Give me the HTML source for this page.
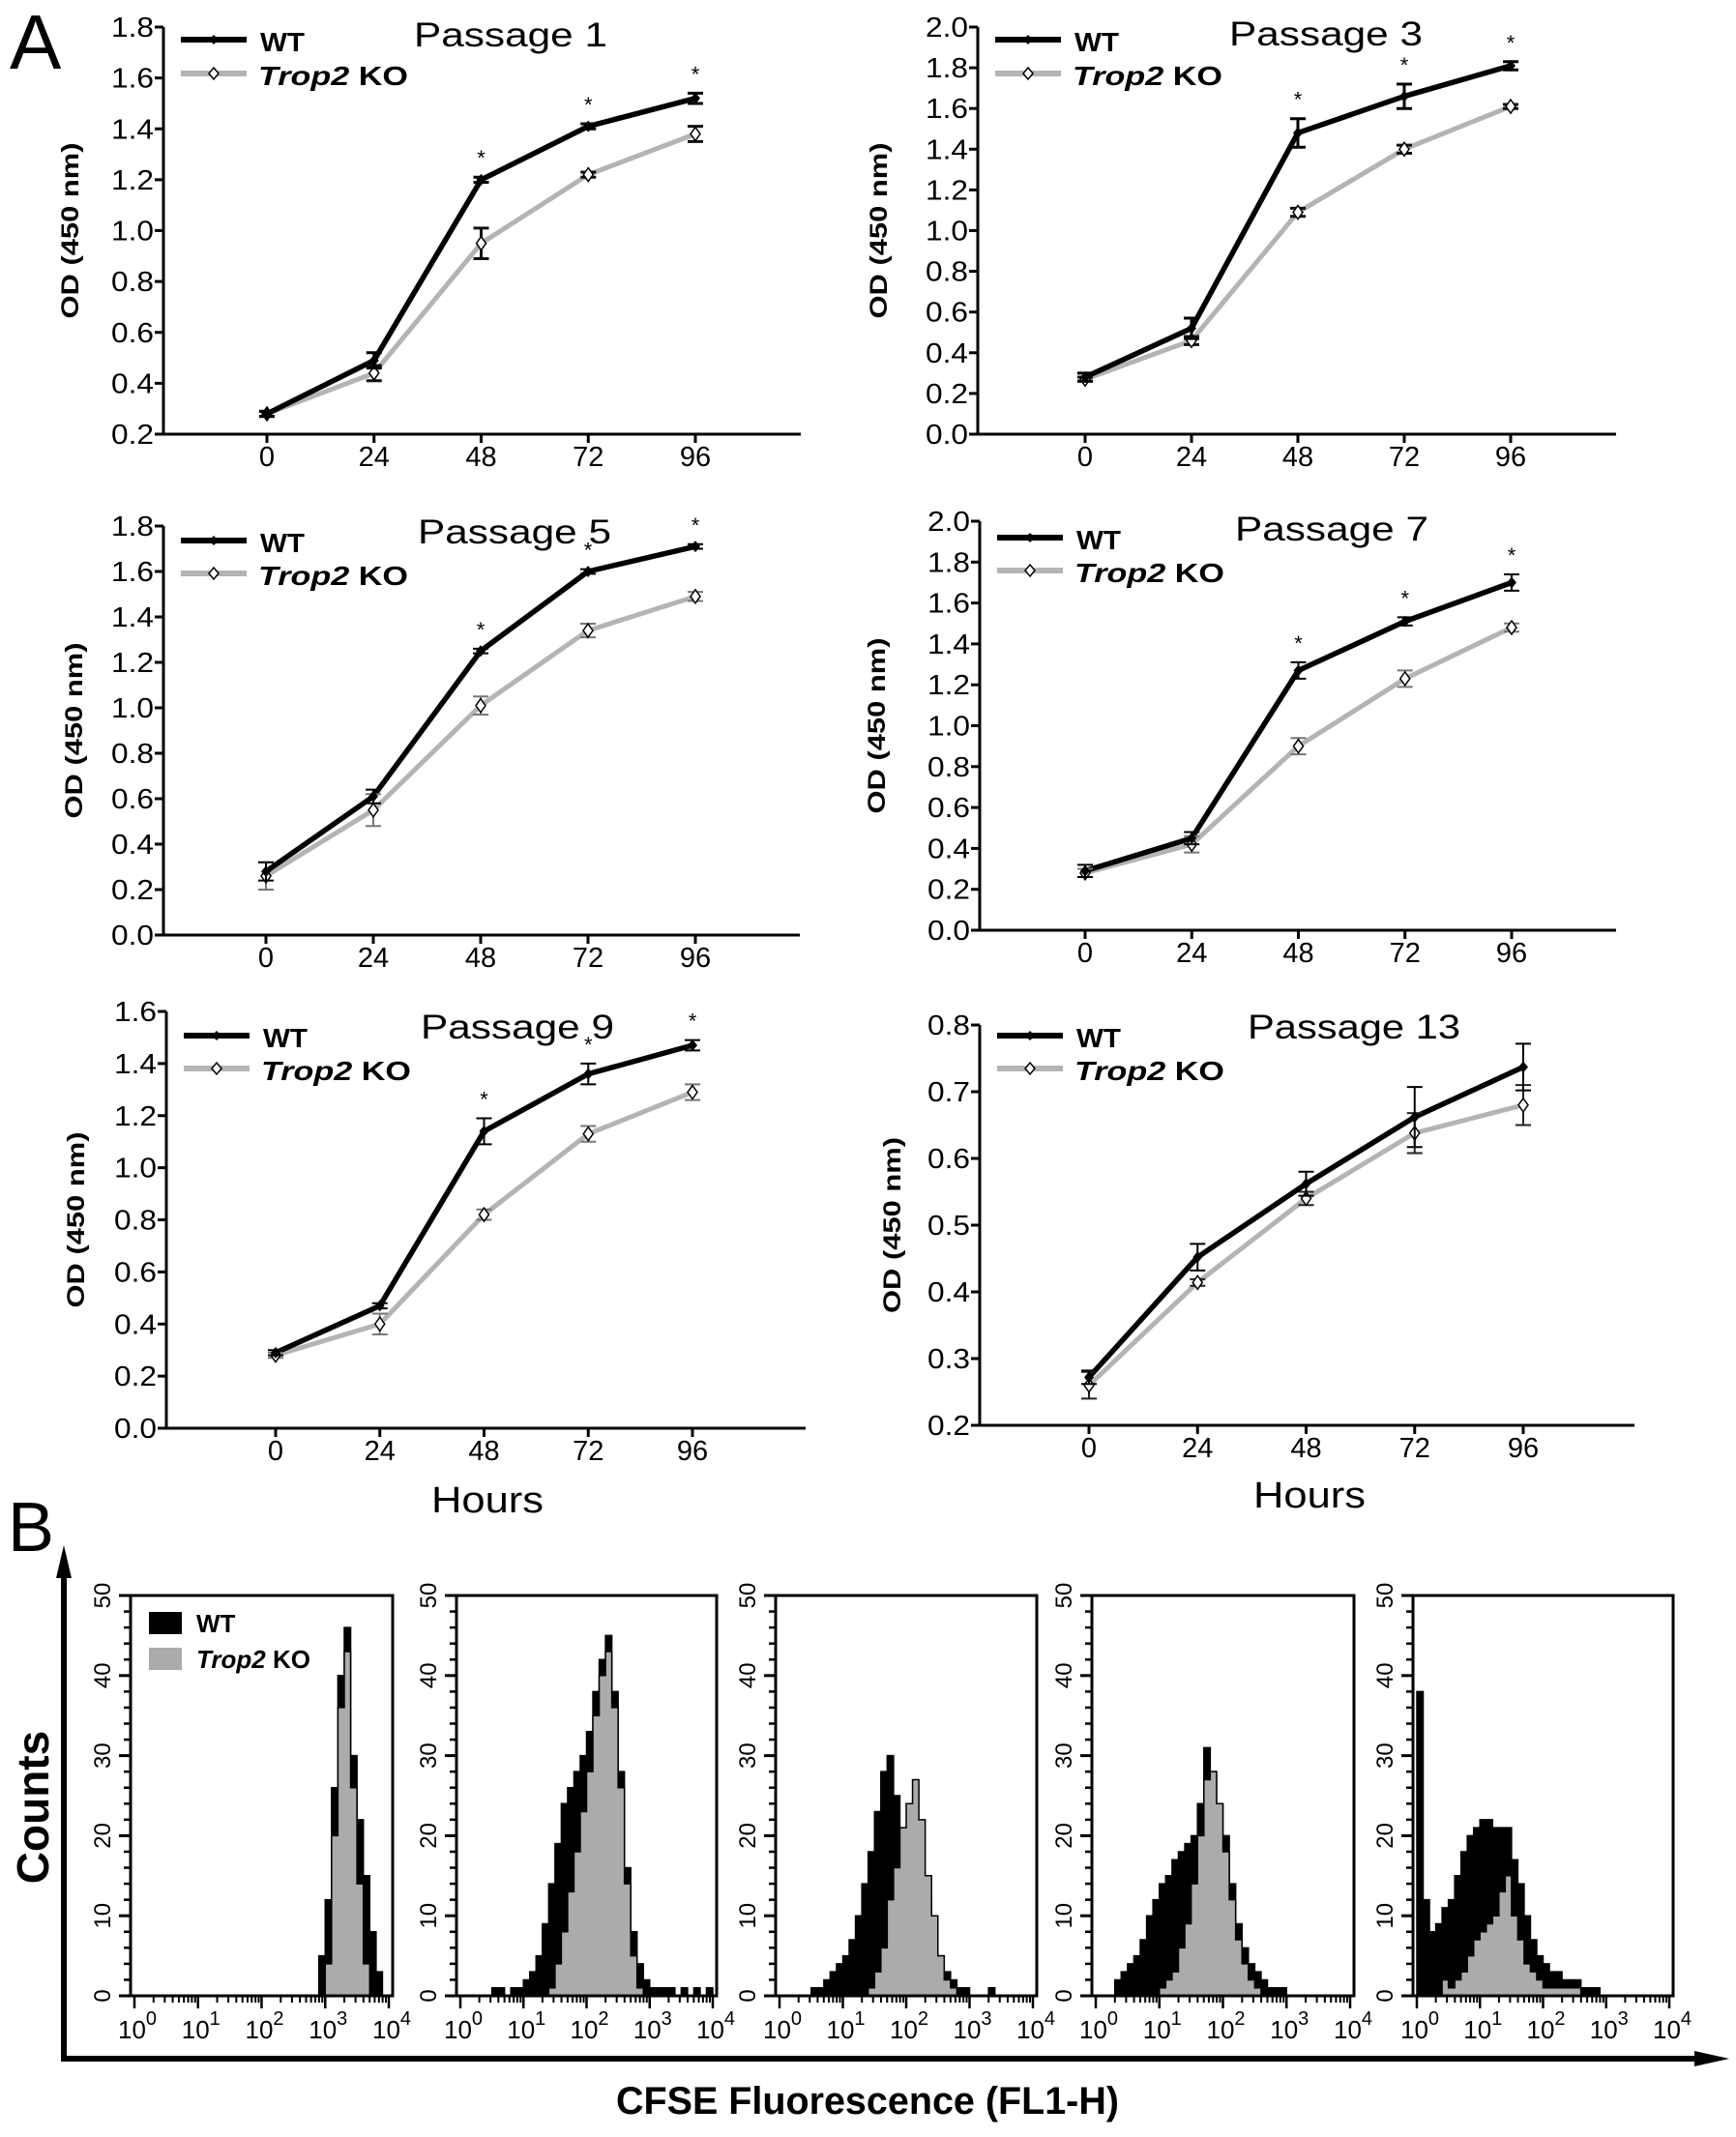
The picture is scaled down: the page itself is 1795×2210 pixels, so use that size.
<!DOCTYPE html>
<html><head><meta charset="utf-8"><title>Trop2 KO proliferation</title>
<style>
html,body{margin:0;padding:0;background:#fff;}
svg{display:block;font-family:"Liberation Sans",Arial,sans-serif;}
</style></head>
<body>
<svg id="fig" xmlns="http://www.w3.org/2000/svg" width="1795" height="2210" viewBox="0 0 1795 2210">
<rect x="0" y="0" width="1795" height="2210" fill="#fff"/>
<text x="10" y="71" font-size="80">A</text>
<text x="8" y="1604" font-size="72">B</text>
<text x="504" y="1564" font-size="38" text-anchor="middle" textLength="116" lengthAdjust="spacingAndGlyphs">Hours</text>
<text x="1354" y="1559" font-size="38" text-anchor="middle" textLength="116" lengthAdjust="spacingAndGlyphs">Hours</text>
<text x="0" y="0" font-size="46" font-weight="bold" text-anchor="middle" transform="translate(50,1869) rotate(-90)">Counts</text>
<text x="897" y="2186" font-size="40" font-weight="bold" text-anchor="middle" textLength="520" lengthAdjust="spacingAndGlyphs">CFSE Fluorescence (FL1-H)</text>
<g>
<line x1="66" y1="2130" x2="66" y2="1625" stroke="#000" stroke-width="6"/>
<polygon points="66,1598 58,1632 74,1632" fill="#000"/>
</g>
<g>
<line x1="63" y1="2129" x2="1760" y2="2129" stroke="#000" stroke-width="6"/>
<polygon points="1788,2129 1752,2121 1752,2137" fill="#000"/>
</g>
</svg>
<script>
// ===== Panel A data =====
const hours = [0, 24, 48, 72, 96];
const p1WT = [0.28, 0.49, 1.20, 1.41, 1.52];
const p1WTerr = [0.01, 0.03, 0.01, 0.01, 0.02];
const p1KO = [0.28, 0.44, 0.95, 1.22, 1.38];
const p1KOerr = [0.01, 0.03, 0.06, 0.01, 0.03];
const p3WT = [0.28, 0.52, 1.48, 1.66, 1.81];
const p3WTerr = [0.02, 0.05, 0.07, 0.06, 0.02];
const p3KO = [0.27, 0.46, 1.09, 1.40, 1.61];
const p3KOerr = [0.01, 0.02, 0.02, 0.02, 0.01];
const p5WT = [0.28, 0.61, 1.25, 1.60, 1.71];
const p5WTerr = [0.04, 0.03, 0.01, 0.01, 0.01];
const p5KO = [0.26, 0.55, 1.01, 1.34, 1.49];
const p5KOerr = [0.06, 0.07, 0.04, 0.03, 0.02];
const p7WT = [0.29, 0.45, 1.27, 1.51, 1.70];
const p7WTerr = [0.03, 0.03, 0.04, 0.02, 0.04];
const p7KO = [0.28, 0.42, 0.90, 1.23, 1.48];
const p7KOerr = [0.02, 0.04, 0.04, 0.04, 0.02];
const p9WT = [0.29, 0.47, 1.14, 1.36, 1.47];
const p9WTerr = [0.01, 0.01, 0.05, 0.04, 0.02];
const p9KO = [0.28, 0.40, 0.82, 1.13, 1.29];
const p9KOerr = [0.01, 0.04, 0.02, 0.03, 0.03];
const p13WT = [0.272, 0.452, 0.562, 0.662, 0.737];
const p13WTerr = [0.010, 0.020, 0.018, 0.045, 0.035];
const p13KO = [0.260, 0.414, 0.540, 0.638, 0.680];
const p13KOerr = [0.020, 0.005, 0.010, 0.030, 0.030];
const starHours = [48, 72, 96];

// ===== Panel B data (counts per 0.1-decade bin, 10^0..10^4) =====
const h1WT = [0,0,0,0,0,0,0,0,0,0, 0,0,0,0,0,0,0,0,0,0, 0,0,0,0,0,0,0,0,0,5, 12,26,40,46,30,22,15,8,3,0];
const h1KO = [0,0,0,0,0,0,0,0,0,0, 0,0,0,0,0,0,0,0,0,0, 0,0,0,0,0,0,0,0,0,0, 4,20,36,43,26,14,4,0,0,0];
const h2WT = [0,0,0,0,0,1,1,0,1,1, 2,3,5,9,14,19,24,26,28,30, 33,38,42,45,38,28,16,8,4,2, 1,1,1,1,0,1,0,1,0,1];
const h2KO = [0,0,0,0,0,0,0,0,0,0, 0,0,0,0,1,4,8,13,18,23, 28,35,40,43,36,26,14,5,1,0, 0,0,0,0,0,0,0,0,0,0];
const h3WT = [0,0,0,0,0,1,1,2,3,4, 5,7,10,14,18,23,28,30,25,20, 18,16,15,12,8,5,3,2,1,1, 0,0,0,1,0,0,0,0,0,0];
const h3KO = [0,0,0,0,0,0,0,0,0,0, 0,0,0,0,1,3,6,12,16,21, 24,27,22,15,10,5,2,1,0,0, 0,0,0,0,0,0,0,0,0,0];
const h4WT = [0,0,0,2,3,4,5,7,10,12, 14,15,17,18,19,20,24,31,28,24, 20,14,9,6,4,3,2,1,1,1, 0,0,0,0,0,0,0,0,0,0];
const h4KO = [0,0,0,0,0,0,0,0,0,0, 1,2,3,6,9,14,20,27,28,24, 18,12,7,4,2,1,0,0,0,0, 0,0,0,0,0,0,0,0,0,0];
const h5WT = [38,12,8,9,11,12,15,18,20,21, 22,22,21,21,21,17,14,10,7,5, 4,3,3,2,2,2,1,1,1,0, 0,0,0,0,0,0,0,0,0,0];
const h5KO = [0,0,0,0,2,1,2,3,5,7, 8,9,10,13,15,10,7,4,3,2, 1,1,1,1,1,1,0,0,0,0, 0,0,0,0,0,0,0,0,0,0];
const histYTicks = [0, 10, 20, 30, 40, 50];
const histXTicks = [0, 1, 2, 3, 4];

const NS = "http://www.w3.org/2000/svg";
const fig = document.getElementById("fig");
function mk(parent, tag, attrs) {
  const el = document.createElementNS(NS, tag);
  for (const k in attrs) el.setAttribute(k, attrs[k]);
  parent.appendChild(el);
  return el;
}

const panels = [
  {id:"passage-1", title:"Passage 1", wt:p1WT, wtE:p1WTerr, ko:p1KO, koE:p1KOerr, ymin:0.2, ymax:1.8, step:0.2, dec:1,
   ax:169, axR:828, top:28, bot:449, t0:276, t1:719, titleX:528, titleY:48, legY:41, legKY:76, stars:true, koErrCol:"#111", ew:3, ylabX:72},
  {id:"passage-3", title:"Passage 3", wt:p3WT, wtE:p3WTerr, ko:p3KO, koE:p3KOerr, ymin:0.0, ymax:2.0, step:0.2, dec:1,
   ax:1011, axR:1671, top:28, bot:449, t0:1122, t1:1562, titleX:1371, titleY:47, legY:41, legKY:76, stars:true, koErrCol:"#111", ew:3, ylabX:908},
  {id:"passage-5", title:"Passage 5", wt:p5WT, wtE:p5WTerr, ko:p5KO, koE:p5KOerr, ymin:0.0, ymax:1.8, step:0.2, dec:1,
   ax:169, axR:827, top:544, bot:967, t0:275, t1:719, titleX:532, titleY:562, legY:559, legKY:593, stars:true, koErrCol:"#777", ew:2, ylabX:76},
  {id:"passage-7", title:"Passage 7", wt:p7WT, wtE:p7WTerr, ko:p7KO, koE:p7KOerr, ymin:0.0, ymax:2.0, step:0.2, dec:1,
   ax:1013, axR:1671, top:539, bot:962, t0:1122, t1:1563, titleX:1377, titleY:559, legY:556, legKY:590, stars:true, koErrCol:"#777", ew:2, ylabX:906},
  {id:"passage-9", title:"Passage 9", wt:p9WT, wtE:p9WTerr, ko:p9KO, koE:p9KOerr, ymin:0.0, ymax:1.6, step:0.2, dec:1,
   ax:172, axR:833, top:1046, bot:1477, t0:285, t1:716, titleX:535, titleY:1074, legY:1071, legKY:1105, stars:true, koErrCol:"#777", ew:2, ylabX:78},
  {id:"passage-13", title:"Passage 13", wt:p13WT, wtE:p13WTerr, ko:p13KO, koE:p13KOerr, ymin:0.2, ymax:0.8, step:0.1, dec:1,
   ax:1013, axR:1690, top:1060, bot:1474, t0:1126, t1:1575, titleX:1400, titleY:1074, legY:1071, legKY:1105, stars:false, koErrCol:"#222", ew:2, ylabX:922}
];

panels.forEach(function(p) {
  const g = mk(fig, "g", {});
  
  
  const ys = function(v){ return p.bot - (v - p.ymin) / (p.ymax - p.ymin) * (p.bot - p.top); };
  const xs = function(h){ return p.t0 + h / 96 * (p.t1 - p.t0); };
  const ya = mk(g, "line", {x1:p.ax, y1:p.top, x2:p.ax, y2:p.bot+1.5, stroke:"#000", "stroke-width":3});
  
  
  const xa = mk(g, "line", {x1:p.ax-1.5, y1:p.bot, x2:p.axR, y2:p.bot, stroke:"#000", "stroke-width":3});
  
  
  const nT = Math.round((p.ymax - p.ymin) / p.step);
  for (let i = 0; i <= nT; i++) {
    const v = p.ymin + i * p.step;
    const y = ys(v);
    const tk = mk(g, "line", {x1:p.ax-9, y1:y, x2:p.ax, y2:y, stroke:"#000", "stroke-width":3});
    
    
    const tl = mk(g, "text", {x:p.ax-10, y:y+10, "font-size":29, "text-anchor":"end", textLength:44, lengthAdjust:"spacingAndGlyphs"});
    tl.textContent = v.toFixed(p.dec);
    
    
  }
  hours.forEach(function(h) {
    const x = xs(h);
    const tk = mk(g, "line", {x1:x, y1:p.bot, x2:x, y2:p.bot+9, stroke:"#000", "stroke-width":3});
    
    
    const tl = mk(g, "text", {x:x, y:p.bot+33, "font-size":29, "text-anchor":"middle"});
    tl.textContent = String(h);
    
    
  });
  const yt = mk(g, "text", {x:0, y:0, "font-size":25, "font-weight":"bold", "text-anchor":"middle", textLength:182, lengthAdjust:"spacingAndGlyphs", transform:"translate(" + (p.ylabX+9) + "," + ((p.top+p.bot)/2) + ") rotate(-90)"});
  yt.textContent = "OD (450 nm)";
  
  
  const tt = mk(g, "text", {x:p.titleX, y:p.titleY, "font-size":35, "text-anchor":"middle", textLength:(p.title.length > 9 ? 220 : 200), lengthAdjust:"spacingAndGlyphs"});
  tt.textContent = p.title;
  
  
  const lx0 = p.ax + 18, lx1 = p.ax + 86;
  const lw = mk(g, "line", {x1:lx0, y1:p.legY, x2:lx1, y2:p.legY, stroke:"#000", "stroke-width":6});
  
  
  const lwm = mk(g, "polygon", {points:((lx0+lx1)/2)+","+(p.legY-5)+" "+((lx0+lx1)/2+5)+","+p.legY+" "+((lx0+lx1)/2)+","+(p.legY+5)+" "+((lx0+lx1)/2-5)+","+p.legY, fill:"#000"});
  
  
  const lwt = mk(g, "text", {x:lx1+14, y:p.legY+12, "font-size":28, "font-weight":"bold", textLength:46, lengthAdjust:"spacingAndGlyphs"});
  lwt.textContent = "WT";
  
  
  const lk = mk(g, "line", {x1:lx0, y1:p.legKY, x2:lx1, y2:p.legKY, stroke:"#b4b4b4", "stroke-width":6});
  
  
  const lkm = mk(g, "polygon", {points:((lx0+lx1)/2)+","+(p.legKY-6)+" "+((lx0+lx1)/2+5)+","+p.legKY+" "+((lx0+lx1)/2)+","+(p.legKY+6)+" "+((lx0+lx1)/2-5)+","+p.legKY, fill:"#fff", stroke:"#000", "stroke-width":1.5});
  
  
  const lkt = mk(g, "text", {x:lx1+12, y:p.legKY+12, "font-size":28, "font-weight":"bold", textLength:155, lengthAdjust:"spacingAndGlyphs"});
  lkt.innerHTML = '<tspan font-style="italic">Trop2</tspan> KO';
  
  
  const koLine = mk(g, "polyline", {points:p.ko.map(function(v,i){return xs(hours[i])+","+ys(v);}).join(" "), fill:"none", stroke:"#b4b4b4", "stroke-width":5, "stroke-linejoin":"round"});
  
  
  const wtLine = mk(g, "polyline", {points:p.wt.map(function(v,i){return xs(hours[i])+","+ys(v);}).join(" "), fill:"none", stroke:"#000", "stroke-width":5.5, "stroke-linejoin":"round"});
  
  
  function errBar(x, v, e, col, nm) {
    const y1 = ys(v + e), y2 = ys(v - e);
    const eb = mk(g, "path", {d:"M"+x+","+y1+"V"+y2+"M"+(x-8)+","+y1+"H"+(x+8)+"M"+(x-8)+","+y2+"H"+(x+8), stroke:col, "stroke-width":p.ew, fill:"none"});
    
    
  }
  p.ko.forEach(function(v,i){
    const x = xs(hours[i]), y = ys(v);
    errBar(x, v, p.koE[i], p.koErrCol, 'ko-error-bar');
    const m = mk(g, "polygon", {points:x+","+(y-7)+" "+(x+5)+","+y+" "+x+","+(y+7)+" "+(x-5)+","+y, fill:"#fff", stroke:"#000", "stroke-width":1.5});
    
    
  });
  p.wt.forEach(function(v,i){
    const x = xs(hours[i]), y = ys(v);
    errBar(x, v, p.wtE[i], "#000", 'wt-error-bar');
    const m = mk(g, "polygon", {points:x+","+(y-6)+" "+(x+5)+","+y+" "+x+","+(y+6)+" "+(x-5)+","+y, fill:"#000"});
    
    
  });
  if (p.stars) {
    starHours.forEach(function(h){
      const i = hours.indexOf(h);
      const s = mk(g, "text", {x:xs(h), y:ys(p.wt[i] + p.wtE[i]) - 12, "font-size":22, "text-anchor":"middle"});
      s.textContent = "*";
      
      
    });
  }
});

// ===== Panel B histograms =====
const hists = [
  {id:"histogram-1", wt:h1WT, ko:h1KO, x0:135, x1:406},
  {id:"histogram-2", wt:h2WT, ko:h2KO, x0:472, x1:741},
  {id:"histogram-3", wt:h3WT, ko:h3KO, x0:802, x1:1072},
  {id:"histogram-4", wt:h4WT, ko:h4KO, x0:1129, x1:1400},
  {id:"histogram-5", wt:h5WT, ko:h5KO, x0:1461, x1:1730}
];
const hTop = 1650, hBot = 2064, hMax = 50;
hists.forEach(function(hp, k) {
  const g = mk(fig, "g", {});
  
  
  const ys = function(v){ return hBot - v / hMax * (hBot - hTop); };
  const xs = function(d){ return hp.x0 + 4 + d / 4 * (hp.x1 - hp.x0 - 8); };
  function stepPath(arr) {
    let d = "M" + xs(0) + "," + hBot;
    arr.forEach(function(v, i){
      d += "L" + xs(i * 0.1) + "," + ys(v) + "L" + xs((i + 1) * 0.1) + "," + ys(v);
    });
    d += "L" + xs(4) + "," + hBot + "Z";
    return d;
  }
  const wp = mk(g, "path", {d:stepPath(hp.wt), fill:"#000", stroke:"#000", "stroke-width":1.5});
  
  
  const kp = mk(g, "path", {d:stepPath(hp.ko), fill:"#ababab", stroke:"#000", "stroke-width":1.5});
  
  
  const box = mk(g, "rect", {x:hp.x0, y:hTop, width:hp.x1 - hp.x0, height:hBot - hTop, fill:"none", stroke:"#000", "stroke-width":3});
  
  
  for (let c = 0; c <= 50; c += 2) {
    const major = c % 10 === 0;
    const t = mk(g, "line", {x1:hp.x0 - (major ? 12 : 7), y1:ys(c), x2:hp.x0, y2:ys(c), stroke:"#000", "stroke-width":major ? 3 : 2.5});
    
    
  }
  histYTicks.forEach(function(c){
    const tl = mk(g, "text", {x:0, y:0, "font-size":24, "text-anchor":"middle", transform:"translate(" + (hp.x0 - 21) + "," + ys(c) + ") rotate(-90)"});
    tl.textContent = String(c);
    
    
  });
  for (let dcd = 0; dcd < 4; dcd++) {
    for (let m = 2; m <= 9; m++) {
      const x = xs(dcd + Math.log10(m));
      const t = mk(g, "line", {x1:x, y1:hBot, x2:x, y2:hBot + 7, stroke:"#000", "stroke-width":2});
      
      
    }
  }
  histXTicks.forEach(function(dcd){
    const x = xs(dcd);
    const t = mk(g, "line", {x1:x, y1:hBot, x2:x, y2:hBot + 13, stroke:"#000", "stroke-width":2.5});
    
    
    const tl = mk(g, "text", {x:x - 17, y:hBot + 44, "font-size":26});
    tl.innerHTML = '10<tspan dy="-14" font-size="20">' + dcd + '</tspan>';
    
    
  });
  if (k === 0) {
    const lg = mk(g, "g", {});
    
    
    const s1 = mk(lg, "rect", {x:154, y:1667, width:34, height:23, fill:"#000"});
    
    
    const t1 = mk(lg, "text", {x:203, y:1688, "font-size":26, "font-weight":"bold"});
    t1.textContent = "WT";
    
    
    const s2 = mk(lg, "rect", {x:154, y:1704, width:34, height:23, fill:"#ababab"});
    
    
    const t2 = mk(lg, "text", {x:203, y:1725, "font-size":26, "font-weight":"bold"});
    t2.innerHTML = '<tspan font-style="italic">Trop2</tspan> KO';
    
    
  }
});
</script>
</body></html>
